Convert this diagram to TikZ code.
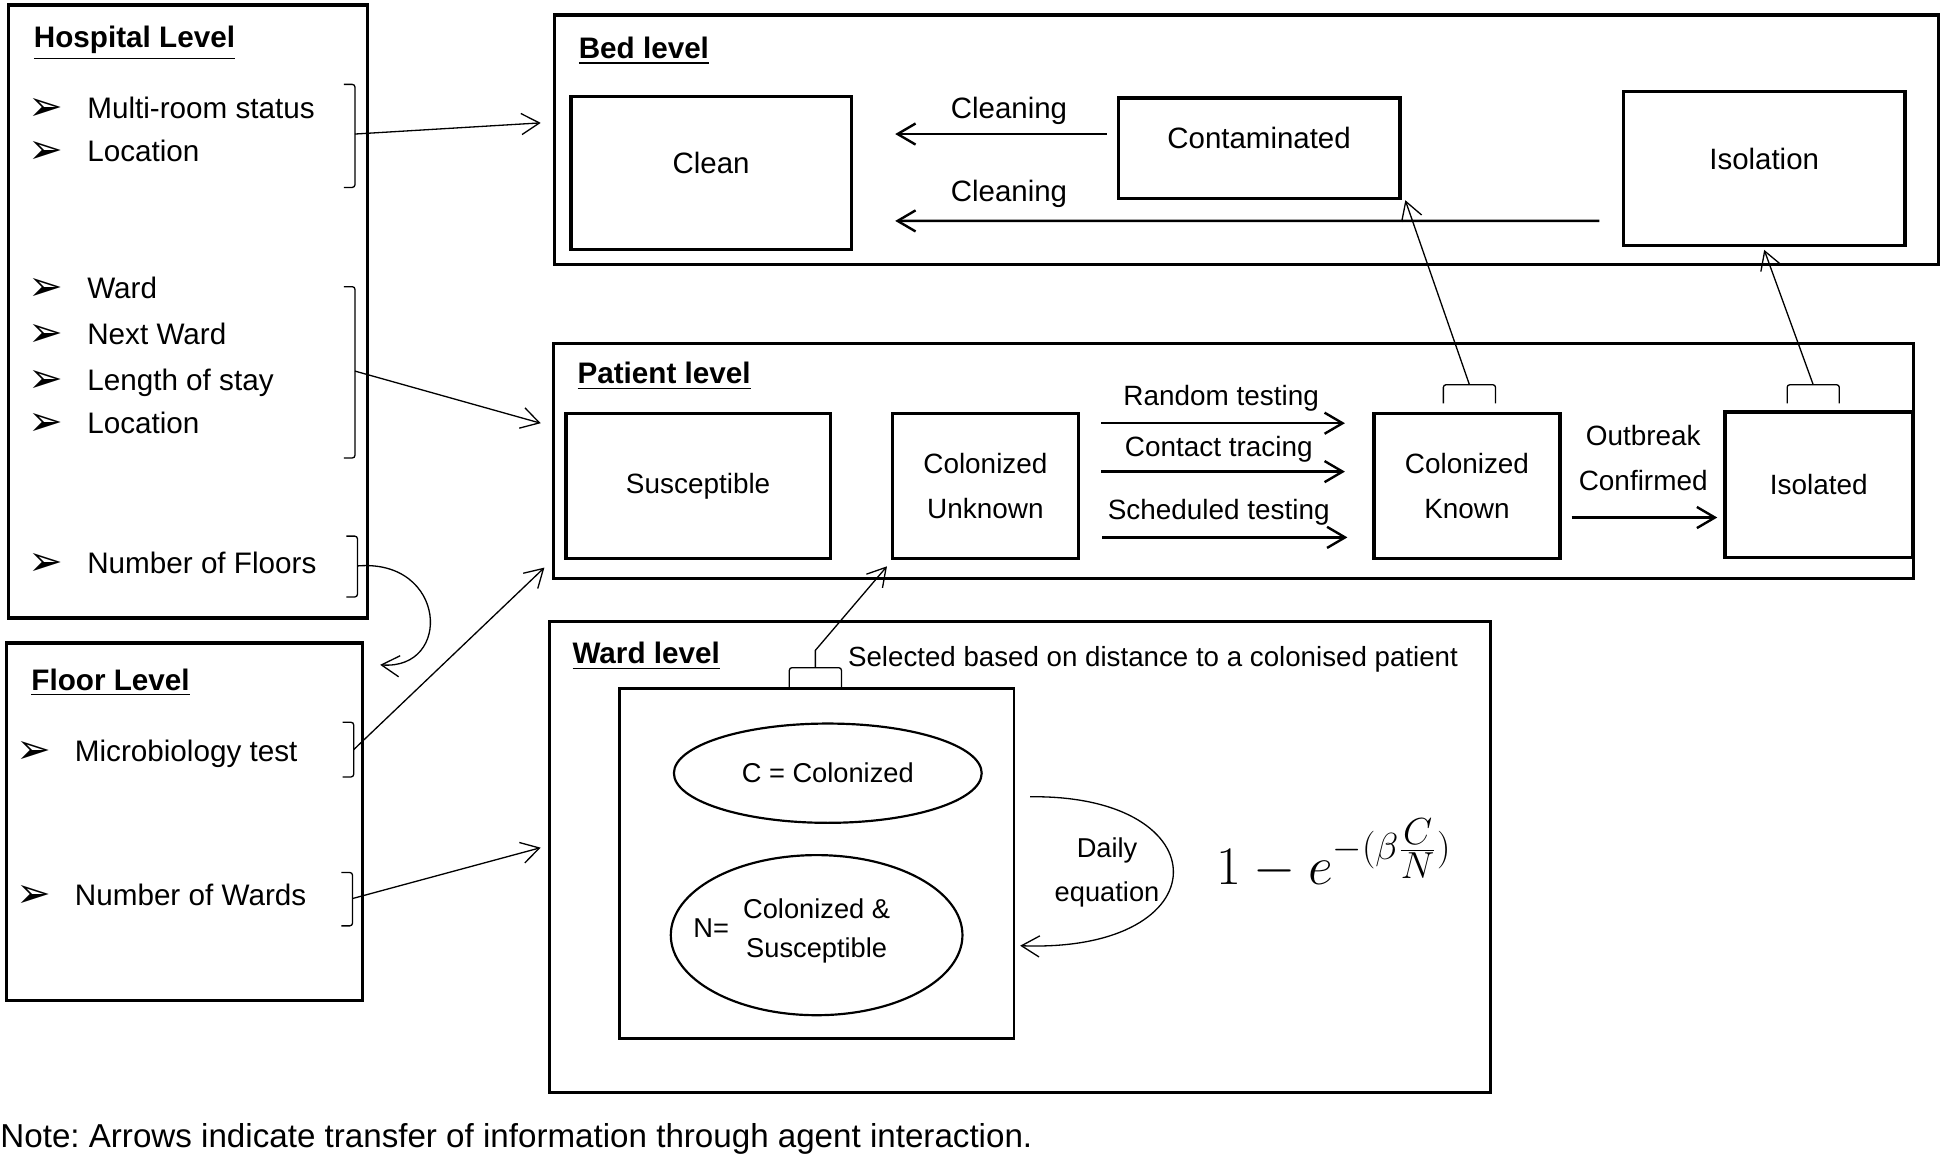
\documentclass[tikz,border=0pt]{standalone}
\usepackage{fontspec}
\usepackage{amsmath}
\setmainfont{Liberation Sans}
\newfontfamily\symfont{DejaVu Sans}
\usetikzlibrary{arrows.meta,shapes.geometric}
\frenchspacing

\begin{document}
\begin{tikzpicture}[x=0.2mm,y=-0.2mm,
        frame/.style={draw,line width=1.5pt,inner sep=0pt},
        state/.style={draw,line width=1.5pt,inner sep=0pt,align=center,font=\fontsize{12.8}{20.4}\selectfont},
        bedstate/.style={state,text depth=3.3mm,font=\fontsize{13.5}{16}\selectfont},
        title/.style={anchor=west,inner sep=0pt,font=\fontsize{13.6}{16}\selectfont\bfseries},
        item/.style={anchor=west,inner sep=0pt,text height=1.9ex,text depth=0.3ex,font=\fontsize{13.6}{16}\selectfont},
        bul/.style={inner sep=0pt,font=\fontsize{19}{20}\symfont},
        lbl/.style={inner sep=0pt,align=center,font=\fontsize{12.8}{20.4}\selectfont},
        bracket/.style={line width=0.6pt,rounded corners=1.2pt},
        link/.style={line width=0.6pt,-{Straight Barb[length=2.9mm,width=3.4mm]}},
        flow/.style={line width=1.1pt,-{Straight Barb[length=2.9mm,width=3.4mm]}}]

            \useasboundingbox (0,0) rectangle (1568,935);

            % the five levels
            \node (hosp) at (151.5,251) [frame,minimum width=57.8mm,minimum height=98.8mm] {};
            \node (floor) at (148.5,662) [frame,minimum width=57.4mm,minimum height=57.6mm] {};
            \node (bed) at (1004.5,112.5) [frame,minimum width=223mm,minimum height=40.2mm] {};
            \node (patient) at (994,371.5) [frame,minimum width=219.2mm,minimum height=37.8mm] {};
            \node (ward) at (822,690.5) [frame,minimum width=151.6mm,minimum height=75.8mm] {};

            \node (hosptitle) at (27,35) [title] {\underline{Hospital Level}};
            \node (floortitle) at (25,550) [title] {\underline{Floor Level}};
            \node (bedtitle) at (466,41) [title] {\underline{Bed level}};
            \node (pattitle) at (465,303) [title] {\underline{Patient level}};
            \node (wardtitle) at (461,529) [title] {\underline{Ward level}};

            % hospital attributes
            \foreach \y/\txt [count=\i] in {88/Multi-room status,123/Location,233/Ward,270/Next Ward,307/Length of stay,342/Location,455/Number of Floors} {
                \node (hb\i) at (37,\y) [bul] {➢};
                \node (hi\i) at (70,\y) [item] {\txt};
            }
            % floor attributes
            \node (fb1) at (27,606) [bul] {➢};
            \node (fi1) at (60,606) [item] {Microbiology test};
            \node (fb2) at (27,722) [bul] {➢};
            \node (fi2) at (60,722) [item] {Number of Wards};

            % bed states
            \node (clean) at (573,139.5) [bedstate,minimum width=45.2mm,minimum height=24.6mm] {Clean};
            \node (contam) at (1014.5,119.5) [bedstate,minimum width=45.4mm,minimum height=16.2mm] {Contaminated};
            \node (isolation) at (1421.5,136) [bedstate,minimum width=45.4mm,minimum height=24.8mm] {Isolation};

            \draw[flow] ([shift={(-8,-11.5)}]contam.west) -- ([shift={(34,-31.5)}]clean.east);
            \draw[flow] ([shift={(-18,42)}]isolation.west) -- ([shift={(34,38.5)}]clean.east);
            \node (clean1) at (813,89) [lbl,font=\fontsize{13.5}{16}\selectfont] {Cleaning};
            \node (clean2) at (813,156) [lbl,font=\fontsize{13.5}{16}\selectfont] {Cleaning};

            % patient states
            \node (susc) at (562.5,391.5) [state,minimum width=42.6mm,minimum height=23.4mm] {Susceptible};
            \node (cunk) at (794,391.5) [state,minimum width=30mm,minimum height=23.4mm] {Colonized\\Unknown};
            \node (ckn) at (1182,391.5) [state,minimum width=30mm,minimum height=23.4mm] {Colonized\\Known};
            \node (isol) at (1465.5,390.5) [state,minimum width=30.2mm,minimum height=23.4mm] {Isolated};

            \draw[flow] ([shift={(17,-50.5)}]cunk.east) -- ([shift={(-22,-50.5)}]ckn.west);
            \draw[flow] ([shift={(17,-11.5)}]cunk.east) -- ([shift={(-22,-11.5)}]ckn.west);
            \draw[flow] ([shift={(18,41.5)}]cunk.east) -- ([shift={(-20,41.5)}]ckn.west);
            \draw[flow] ([shift={(8,25.5)}]ckn.east) -- ([shift={(-5,26.5)}]isol.west);
            \node (random) at (984,321) [lbl] {Random testing};
            \node (contact) at (982,362) [lbl] {Contact tracing};
            \node (sched) at (982,413) [lbl] {Scheduled testing};
            \node (outbreak) at (1324,369) [lbl] {Outbreak\\Confirmed};

            % ward contents
            \node (wbox) at (658,696) [draw,line width=1.3pt,minimum width=63.6mm,minimum height=56.4mm] {};
            \node (ellc) at (667,623) [ellipse,draw,line width=1pt,minimum width=49.6mm,minimum height=16mm,lbl,font=\fontsize{12.5}{16}\selectfont] {C = Colonized};
            \node (elln) at (658,753.5) [ellipse,draw,line width=1pt,minimum width=47mm,minimum height=25.8mm] {};
            \node (neq) at (573,748) [lbl,font=\fontsize{12.5}{16}\selectfont] {N=};
            \node (ntxt) at (658,750) [lbl,font=\fontsize{12.5}{18}\selectfont] {Colonized \&\\Susceptible};
            \node (daily) at (892,703) [lbl,font=\fontsize{12.5}{20.4}\selectfont] {Daily\\equation};
            \node (formula) at (1075,688) [inner sep=0pt,font=\fontsize{24}{28}\selectfont] {$1-e^{-(\beta\frac{\scriptstyle C}{\scriptstyle N})}$};
            \node (selected) at (683,531) [anchor=west,inner sep=0pt,font=\fontsize{12.7}{16}\selectfont] {Selected based on distance to a colonised patient};

            \coordinate (dq1) at (830,642);
            \coordinate (dq2) at (822,762);
            \draw[link] (dq1) .. controls (985,640) and (985,768) .. (dq2);

            % brackets
            \draw[bracket] (277,68) -- (286,68) -- (286,151) -- (277,151);
            \draw[bracket] (277,231) -- (286,231) -- (286,369) -- (277,369);
            \draw[bracket] (279,432) -- (288,432) -- (288,481) -- (279,481);
            \draw[bracket] (276,582) -- (285,582) -- (285,626) -- (276,626);
            \draw[bracket] (275,703) -- (284,703) -- (284,746) -- (275,746);
            \draw[bracket] (1163,325) -- (1163,310) -- (1205,310) -- (1205,325);
            \draw[bracket] (1440,325) -- (1440,310) -- (1482,310) -- (1482,325);
            \draw[bracket] (636,555) -- (636,538) -- (678,538) -- (678,555);
            \coordinate (br1) at (286,108);
            \coordinate (br2) at (286,299);
            \coordinate (br3) at (288,456);
            \coordinate (br4) at (285,604);
            \coordinate (br5) at (284,724);
            \coordinate (br6) at (1184,310);
            \coordinate (br7) at (1461,310);
            \coordinate (br8) at (657,538);

            % information transfer
            \draw[link] (br1) -- ([shift={(-10,-13.5)}]bed.west);
            \draw[link] (br2) -- ([shift={(-9,-30.5)}]patient.west);
            \draw[link] (br3) .. controls (360,450) and (365,540) .. ([shift={(13,19)}]floor.north east);
            \draw[link] (br4) -- ([shift={(-6,-10)}]patient.south west);
            \draw[link] (br5) -- ([shift={(-6,-7.5)}]ward.west);
            \draw[link] (br6) -- ([shift={(3,0)}]contam.south east);
            \draw[link] (br7) -- ([shift={(0,2)}]isolation.south);
            \draw[link] (br8) -- (657,524) -- ([shift={(-3,5)}]cunk.south west);

            \node (note) at (0,918) [anchor=west,inner sep=0pt,font=\fontsize{15.2}{18}\selectfont] {Note: Arrows indicate transfer of information through agent interaction.};

        \end{tikzpicture}
\end{document}
